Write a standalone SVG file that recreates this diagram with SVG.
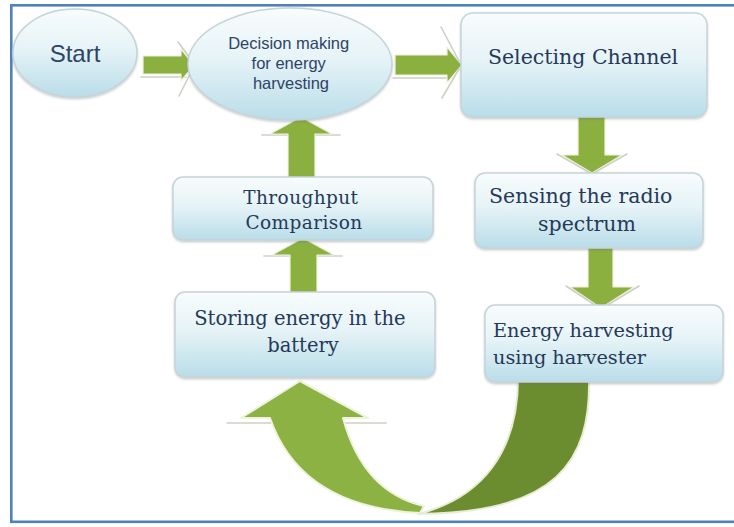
<svg xmlns="http://www.w3.org/2000/svg" width="734" height="527" viewBox="0 0 734 527">
  <defs>
    <linearGradient id="nodeFill" x1="0" y1="0" x2="0" y2="1">
      <stop offset="0" stop-color="#F8FCFD"/>
      <stop offset="0.45" stop-color="#E6F3F7"/>
      <stop offset="1" stop-color="#B9DDE9"/>
    </linearGradient>
    <filter id="soft" x="-10%" y="-10%" width="120%" height="130%">
      <feDropShadow dx="0" dy="1.5" stdDeviation="1.2" flood-color="#5a6a70" flood-opacity="0.35"/>
    </filter>
    <style>
      .box { fill: url(#nodeFill); stroke: #C6D4D8; stroke-width: 1.5; filter: url(#soft); }
      .serif { font-family: "DejaVu Serif", "Liberation Serif", serif; fill: #25395A; }
      .sans { font-family: "Liberation Sans", Arial, sans-serif; fill: #2E4467; }
      .arrow { fill: #8CB040; stroke: #EEF2DE; stroke-width: 1.2; stroke-linejoin: round; }
      .edge { fill: none; stroke: #CFCFC8; stroke-width: 1.6; stroke-linecap: round; }
      .curveLight { fill: #8DB244; stroke: #EEF3DC; stroke-width: 2; stroke-linejoin: round; }
      .curveDark { fill: #6B8C2F; stroke: #E7EDD4; stroke-width: 2; stroke-linejoin: round; }
    </style>
  </defs>

  <rect width="734" height="527" fill="#FFFFFF"/>
  <!-- page frame (right side runs off the canvas) -->
  <rect x="11.3" y="5.3" width="740" height="516.5" fill="none" stroke="#4F81BD" stroke-width="2.6"/>

  <g id="connectors">
    <!-- Start -> Decision -->
    <line class="edge" x1="141" y1="77" x2="186" y2="77"/>
    <polygon class="arrow" points="143,56 181,56 181,49 194,65 181,81 181,74 143,74"/>
    <line class="edge" x1="178" y1="42" x2="193" y2="62"/>
    <line class="edge" x1="193" y1="68" x2="179" y2="96"/>

    <!-- Decision -> Selecting Channel -->
    <line class="edge" x1="393" y1="78" x2="450" y2="78"/>
    <polygon class="arrow" points="395,55 447,55 447,47 462,65 447,83 447,75 395,75"/>
    <line class="edge" x1="441" y1="27" x2="459" y2="61"/>
    <line class="edge" x1="459" y1="69" x2="442" y2="98"/>

    <!-- Selecting Channel -> Sensing -->
    <polygon class="arrow" points="578,116 605,116 605,155 622,155 592,173 562,155 578,155"/>
    <line class="edge" x1="557" y1="154" x2="592" y2="174"/>
    <line class="edge" x1="627" y1="154" x2="592" y2="174"/>

    <!-- Sensing -> Energy harvesting -->
    <polygon class="arrow" points="588,247 613,247 613,287 634,287 601,308 570,287 588,287"/>
    <line class="edge" x1="566" y1="286" x2="601" y2="309"/>
    <line class="edge" x1="639" y1="286" x2="601" y2="309"/>

    <!-- Energy harvesting -> Storing (curved return) -->
    <line class="edge" x1="227" y1="423" x2="271" y2="423"/>
    <line class="edge" x1="340" y1="423" x2="386" y2="423"/>
    <path class="curveLight" d="M 300 381 L 368 418 L 343 418 C 355 462, 380 496, 424 506 L 420 513 C 338 509, 290 476, 270 418 L 241 418 Z"/>
    <path class="curveDark" d="M 518 378 L 589 378 C 591 462, 556 513, 418 514 C 482 498, 518 452, 518 378 Z"/>

    <!-- Storing -> Throughput -->
    <line class="edge" x1="264" y1="256" x2="342" y2="256"/>
    <polygon class="arrow" points="290,293 317,293 317,255 334,255 303,238 272,255 290,255"/>

    <!-- Throughput -> Decision -->
    <line class="edge" x1="262" y1="135" x2="340" y2="135"/>
    <polygon class="arrow" points="288,178 315,178 315,134 332,134 301,117 270,134 288,134"/>
  </g>

  <g id="start">
    <ellipse class="box" cx="75" cy="53" rx="62" ry="44"/>
    <text class="sans" x="75" y="62" font-size="24" text-anchor="middle">Start</text>
  </g>

  <g id="decision">
    <ellipse class="box" cx="290" cy="64" rx="102" ry="56"/>
    <text class="sans" font-size="16.5" text-anchor="middle">
      <tspan x="291" y="49">Decision making</tspan>
      <tspan x="291" y="69">for energy</tspan>
      <tspan x="291" y="89">harvesting</tspan>
    </text>
  </g>

  <g id="selecting">
    <rect class="box" x="461" y="13" width="246" height="104" rx="12"/>
    <text class="serif" x="583" y="64" font-size="20.5" text-anchor="middle">Selecting Channel</text>
  </g>

  <g id="sensing">
    <rect class="box" x="475" y="173" width="228" height="75" rx="10"/>
    <text class="serif" font-size="20.5" text-anchor="middle">
      <tspan x="584" y="203">Sensing the radio</tspan>
      <tspan x="587" y="231">spectrum</tspan>
    </text>
  </g>

  <g id="harvesting">
    <rect class="box" x="485" y="305" width="238" height="77" rx="10"/>
    <text class="serif" font-size="19.3">
      <tspan x="493" y="337">Energy harvesting</tspan>
      <tspan x="493" y="364">using harvester</tspan>
    </text>
  </g>

  <g id="storing">
    <rect class="box" x="175" y="292" width="260" height="85" rx="10"/>
    <text class="serif" font-size="19.5" text-anchor="middle">
      <tspan x="303" y="325">Storing energy in the</tspan>
      <tspan x="303" y="352">battery</tspan>
    </text>
  </g>

  <g id="throughput">
    <rect class="box" x="173" y="177" width="260" height="63" rx="10"/>
    <text class="serif" font-size="18.5" letter-spacing="0.4" text-anchor="middle">
      <tspan x="304" y="204">Throughput</tspan>
      <tspan x="304" y="229">Comparison</tspan>
    </text>
  </g>
</svg>
